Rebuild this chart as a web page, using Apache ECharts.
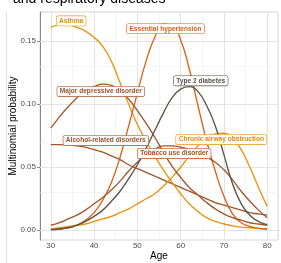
<!DOCTYPE html>
<html><head><meta charset="utf-8">
<script src="https://cdn.jsdelivr.net/npm/echarts@6/dist/echarts.min.js"></script>
<style>html,body{margin:0;padding:0;background:#fff;}#c{width:281px;height:263px;}</style>
</head><body><div id="c"></div>
<script>
// ---- data ----
const ages = [30,32,34,36,38,40,42,44,46,48,50,52,54,56,58,60,62,64,66,68,70,72,74,76,78,80];
const alcohol = [0.068,0.068,0.0675,0.067,0.066,0.064,0.062,0.059,0.056,0.052,0.049,0.046,0.043,0.040,0.037,0.034,0.031,0.028,0.025,0.022,0.020,0.018,0.016,0.014,0.013,0.012];
const asthma = [0.161,0.163,0.163,0.161,0.158,0.153,0.146,0.134,0.117,0.100,0.084,0.071,0.059,0.048,0.038,0.029,0.021,0.015,0.010,0.007,0.005,0.0035,0.0025,0.002,0.0015,0.001];
const chronicAirway = [0.001,0.002,0.003,0.004,0.005,0.007,0.009,0.011,0.014,0.017,0.021,0.025,0.029,0.035,0.042,0.050,0.059,0.067,0.073,0.0765,0.077,0.073,0.064,0.050,0.034,0.019];
const hypertension = [0.0005,0.001,0.002,0.004,0.008,0.014,0.024,0.038,0.058,0.083,0.109,0.134,0.153,0.1635,0.1625,0.151,0.128,0.099,0.071,0.047,0.027,0.013,0.006,0.003,0.0015,0.001];
const depression = [0.081,0.090,0.098,0.105,0.111,0.114,0.116,0.115,0.111,0.104,0.095,0.085,0.074,0.062,0.051,0.042,0.034,0.028,0.022,0.017,0.013,0.010,0.008,0.006,0.005,0.004];
const tobacco = [0.004,0.006,0.009,0.012,0.016,0.021,0.026,0.032,0.039,0.047,0.054,0.060,0.064,0.067,0.067,0.066,0.064,0.061,0.058,0.054,0.048,0.040,0.031,0.023,0.016,0.010];
const diabetes = [0.0005,0.001,0.002,0.004,0.007,0.011,0.016,0.023,0.031,0.041,0.052,0.065,0.079,0.093,0.105,0.112,0.114,0.110,0.099,0.083,0.060,0.037,0.021,0.012,0.007,0.0045];

const seriesNames = ['Alcohol-related disorders','Asthma','Chronic airway obstruction','Essential hypertension','Major depressive disorder','Tobacco use disorder','Type 2 diabetes'];
const seriesValues = [alcohol, asthma, chronicAirway, hypertension, depression, tobacco, diabetes];
// label anchor (age, probability) for each series
const labelAges = [42.7, 34.7, 69.4, 56.5, 41.55, 58.5, 64.65];
const labelProbs = [0.0712, 0.1661, 0.0720, 0.1599, 0.1101, 0.0609, 0.1186];

const xTicks = [30,40,50,60,70,80];
const xMinor = [35,45,55,65,75];
const yTicks = [0,0.05,0.10,0.15];
const yMinor = [0.025,0.075,0.125];

// ---- styles ----
const lineColors = ['#A0572D','#E6950F','#E6950F','#D8621B','#A0572D','#A0572D','#5C5349'];
const textColors = ['#985130','#DE8C0A','#DE8C0A','#D35F1A','#985130','#985130','#57504A'];
const FONT = 'Liberation Sans';

const chart = echarts.init(document.getElementById('c'), null, {renderer:'canvas'});

const gridLines = [];
xTicks.forEach(v => gridLines.push({xAxis: v, lineStyle:{color:'#E4E4E4', width:1, type:'solid'}}));
xMinor.forEach(v => gridLines.push({xAxis: v, lineStyle:{color:'#F1F1F1', width:0.7, type:'solid'}}));
yTicks.forEach(v => gridLines.push({yAxis: v, lineStyle:{color:'#E4E4E4', width:1, type:'solid'}}));
yMinor.forEach(v => gridLines.push({yAxis: v, lineStyle:{color:'#F1F1F1', width:0.7, type:'solid'}}));

const series = [{
  type:'line', name:'grid', data:[[30,0]], symbol:'none', lineStyle:{width:0}, silent:true, z:0,
  markLine:{ silent:true, symbol:['none','none'], label:{show:false}, z:1, animation:false,
    lineStyle:{type:'solid'}, emphasis:{disabled:true}, data: gridLines }
}];
seriesNames.forEach((name, i) => {
  series.push({
    type:'line', name, smooth:0.5, symbol:'none', z:3,
    data: ages.map((a, j) => [a, seriesValues[i][j]]),
    lineStyle:{color: lineColors[i], width:1.35},
    markPoint:{
      z:10, symbol:'rect', symbolSize:0, silent:true, animation:false,
      data:[{coord:[labelAges[i], labelProbs[i]]}],
      label:{show:true, position:'inside', formatter: name, color: textColors[i],
        fontFamily: FONT, fontSize:6.6, fontWeight:'bold',
        backgroundColor:'rgba(255,255,255,0.92)', borderColor: lineColors[i], borderWidth:0.6,
        borderRadius:1.5, padding:[1.5,2.5,1,2.5]}
    }
  });
});

chart.setOption({
  animation:false,
  backgroundColor:'#fff',
  grid:{left:40, right:3, top:12, bottom:23, show:true, borderColor:'#D4D4D4', borderWidth:1,
    outerBoundsMode:'none', containLabel:false},
  graphic:[
    {type:'text', x:13, y:-1, style:{text:'and respiratory diseases', font:'14px "Liberation Sans"', fill:'#000', verticalAlign:'middle'}},
    {type:'line', shape:{x1:6.5,y1:12,x2:6.5,y2:263}, style:{stroke:'#E2E2E2', lineWidth:1}}
  ],
  xAxis:{type:'value', min:27.5, max:82.5,
    name:'Age', nameLocation:'middle', nameGap:11, nameMoveOverlap:false,
    nameTextStyle:{fontFamily:FONT, fontSize:10, color:'#000'},
    axisLine:{show:true, lineStyle:{color:'#888', width:1}},
    axisTick:{show:true, length:3, lineStyle:{color:'#888'}, customValues:xTicks},
    axisLabel:{show:true, margin:2, fontFamily:FONT, fontSize:8, color:'#4D4D4D', customValues:xTicks},
    splitLine:{show:false}
  },
  yAxis:{type:'value', min:-0.0077, max:0.1732,
    name:'Multinomial probability', nameLocation:'middle', nameGap:22, nameMoveOverlap:false,
    nameTextStyle:{fontFamily:FONT, fontSize:10, color:'#000'},
    axisLine:{show:true, lineStyle:{color:'#888', width:1}},
    axisTick:{show:true, length:3, lineStyle:{color:'#888'}, customValues:yTicks},
    axisLabel:{show:true, margin:4, fontFamily:FONT, fontSize:8, color:'#4D4D4D', customValues:yTicks,
      formatter: v => v.toFixed(2)},
    splitLine:{show:false}
  },
  series
});
</script></body></html>
